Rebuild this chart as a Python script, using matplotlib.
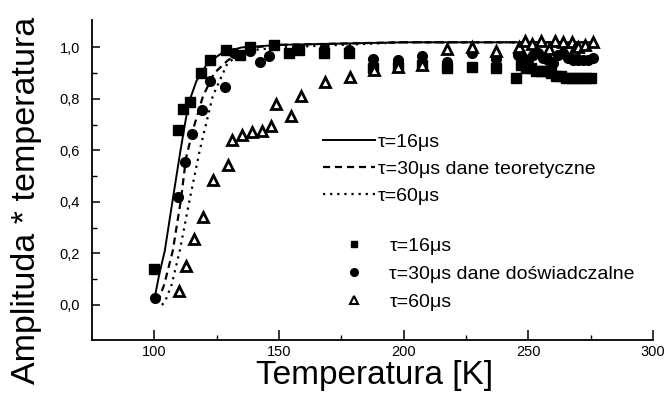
import matplotlib
matplotlib.use("Agg")
import matplotlib.pyplot as plt
from matplotlib.ticker import FixedLocator, FuncFormatter
from matplotlib.lines import Line2D

plt.rcParams['font.family'] = ['Liberation Sans', 'DejaVu Sans']

# ---- theoretical curves ----
T_th16 = [100.2, 102, 104.2, 107.4, 110.5, 112.6, 114, 116.9, 121.4, 127.4, 135, 150, 200, 276]
y_th16 = [0.03, 0.12, 0.21, 0.41, 0.60, 0.72, 0.79, 0.87, 0.94, 0.98, 1.00, 1.01, 1.02, 1.02]

T_th30 = [101.4, 104, 107.4, 110.7, 112.7, 115.5, 119.5, 124, 129.5, 134, 140, 150, 200, 276]
y_th30 = [0.01, 0.08, 0.21, 0.41, 0.57, 0.68, 0.81, 0.90, 0.95, 0.98, 1.00, 1.01, 1.02, 1.02]

T_th60 = [103.0, 104.2, 107, 110.2, 114.2, 118.2, 120.2, 123.4, 129.4, 134, 140, 150, 200, 276]
y_th60 = [0.0, 0.01, 0.08, 0.21, 0.41, 0.60, 0.68, 0.81, 0.94, 0.97, 0.99, 1.00, 1.02, 1.02]

# ---- experimental data ----
T_ex16 = [99.9, 109.5, 111.5, 114.5, 118.6, 122.5, 128.9, 134.4, 138.2, 148.2, 154.2, 158.2,
          168.2, 178.2, 187.8, 197.9, 207.5, 217.5, 227.5, 237.1,
          245, 247, 249, 251, 253, 255, 257, 259, 261, 263, 265, 267, 269, 271, 273, 275]
y_ex16 = [0.14, 0.68, 0.76, 0.79, 0.90, 0.95, 0.99, 0.97, 1.00, 1.01, 0.98, 0.99,
          0.98, 0.98, 0.92, 0.925, 0.93, 0.92, 0.925, 0.92,
          0.88, 0.93, 0.92, 0.92, 0.91, 0.91, 0.91, 0.90, 0.89, 0.89, 0.88, 0.88, 0.88, 0.88, 0.88, 0.88]

T_ex30 = [100.4, 109.7, 112.5, 115.0, 119.0, 122.5, 128.5, 131.9, 138.2, 142.5, 146.2, 158.2,
          168.2, 178.2, 187.8, 197.9, 207.5, 217.5, 227.5, 237.1,
          246, 248, 250, 252, 254, 256, 258, 260, 262, 264, 266, 268, 270, 272, 274, 276]
y_ex30 = [0.026, 0.42, 0.556, 0.664, 0.756, 0.87, 0.845, 0.977, 0.985, 0.945, 0.965, 0.995,
          0.995, 0.99, 0.955, 0.95, 0.965, 0.945, 0.98, 0.955,
          0.97, 0.96, 0.95, 0.97, 0.98, 0.96, 0.95, 0.94, 0.97, 0.98, 0.96, 0.95, 0.95, 0.95, 0.95, 0.96]

T_ex60 = [109.9, 112.9, 115.8, 119.5, 123.5, 129.5, 131.3, 135.1, 139.1, 143.1, 146.9, 148.9,
          154.9, 158.9, 168.5, 178.5, 188.2, 197.9, 207.5, 217.5, 227.5, 237.1,
          246.2, 248.5, 251.5, 254.9, 258.2, 260.9, 263.9, 267.5, 268.5, 269.8, 272.9, 275.9]
y_ex60 = [0.052, 0.15, 0.255, 0.343, 0.485, 0.544, 0.64, 0.66, 0.67, 0.677, 0.695, 0.78,
          0.734, 0.81, 0.866, 0.887, 0.913, 0.925, 0.93, 0.995, 1.0, 0.985,
          1.0, 1.025, 1.015, 1.025, 0.995, 1.025, 1.02, 1.02, 0.99, 1.0, 1.01, 1.02]

x_ticks = [100, 150, 200, 250, 300]
x_minor = [125, 175, 225, 275]
y_ticks = [0.0, 0.2, 0.4, 0.6, 0.8, 1.0]
y_minor = [0.1, 0.3, 0.5, 0.7, 0.9]

fig = plt.figure(figsize=(6.69, 3.98), dpi=100)
ax = fig.add_axes([0.1375, 0.146, 0.8385, 0.804])

l1, = ax.plot(T_th16, y_th16, color='black', lw=1.4, ls='-')
l2, = ax.plot(T_th30, y_th30, color='black', lw=1.6, ls=(0, (3.2, 2.2)))
l3, = ax.plot(T_th60, y_th60, color='black', lw=1.6, ls=(0, (1.0, 2.2)))

m1, = ax.plot(T_ex16, y_ex16, ls='none', marker='s', ms=6.8, color='black', mec='black')
m2, = ax.plot(T_ex30, y_ex30, ls='none', marker='o', ms=7.0, color='black', mec='black')
m3, = ax.plot(T_ex60, y_ex60, ls='none', marker='^', ms=7.5, mfc='white', mec='black', mew=2.0)

ax.set_xlim(75, 300)
ax.set_ylim(-0.136, 1.107)

ax.xaxis.set_major_locator(FixedLocator(x_ticks))
ax.xaxis.set_minor_locator(FixedLocator(x_minor))
ax.yaxis.set_major_locator(FixedLocator(y_ticks))
ax.yaxis.set_minor_locator(FixedLocator(y_minor))
ax.yaxis.set_major_formatter(FuncFormatter(lambda v, p: f"{v:.1f}".replace('.', ',')))

for s in ['top', 'right']:
    ax.spines[s].set_visible(False)
for s in ['left', 'bottom']:
    ax.spines[s].set_linewidth(1.3)

ax.tick_params(axis='x', which='major', direction='in', length=7, width=1.1, labelsize=10.5, pad=3.5)
ax.tick_params(axis='x', which='minor', direction='in', length=3.5, width=1.0)
ax.tick_params(axis='y', which='major', direction='in', length=6, width=1.1, labelsize=10.5, pad=8.5)
ax.tick_params(axis='y', which='minor', direction='in', length=3.5, width=1.0)

ax.set_xlabel('Temperatura [K]', fontsize=24)
ax.xaxis.set_label_coords((375 - 92) / 561, (340 - 360) / 320)
ax.set_ylabel('Amplituda * temperatura', fontsize=24.5)
ax.yaxis.set_label_coords((42 - 92) / 561, (340 - 200) / 320)

leg1 = ax.legend([l1, l2, l3],
                 ['τ=16μs', 'τ=30μs dane teoretyczne', 'τ=60μs'],
                 loc='upper left', bbox_to_anchor=(323 / 669, 1 - 133 / 398),
                 bbox_transform=fig.transFigure, frameon=False, fontsize=14,
                 handlelength=2.68, handletextpad=0.15, labelspacing=0.49,
                 borderaxespad=0, borderpad=0)
ax.add_artist(leg1)

leg2 = ax.legend([Line2D([], [], ls='none', marker='s', ms=5, color='black'),
                  Line2D([], [], ls='none', marker='o', ms=5.5, color='black'),
                  Line2D([], [], ls='none', marker='^', ms=5.5, mfc='white', mec='black', mew=1.5)],
                 ['τ=16μs', 'τ=30μs dane doświadczalne', 'τ=60μs'],
                 loc='upper left', bbox_to_anchor=(335 / 669, 1 - 237 / 398),
                 bbox_transform=fig.transFigure, frameon=False, fontsize=14,
                 handlelength=2.0, handletextpad=0.8, labelspacing=0.54,
                 borderaxespad=0, borderpad=0)

fig.savefig('out.png', dpi=100)
